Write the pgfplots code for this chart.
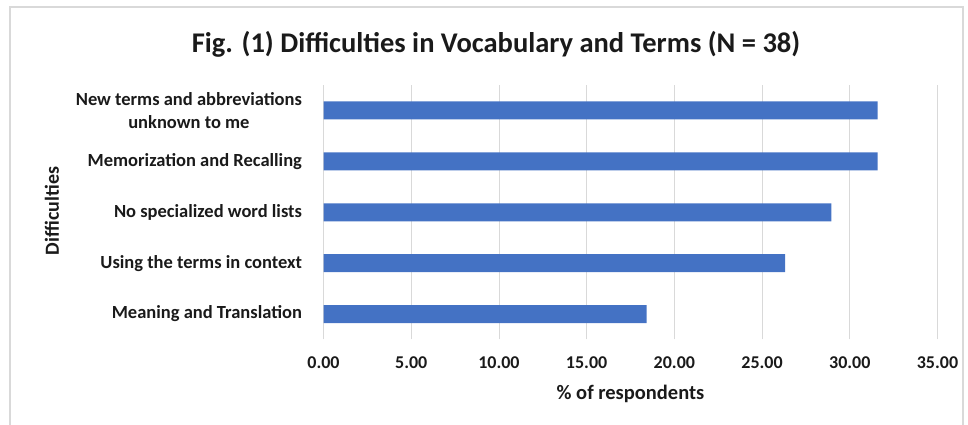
\documentclass[border=0pt]{standalone}
\usepackage{pgfplots}
\pgfplotsset{compat=1.18}
\usepackage{fontspec}
\setmainfont{Carlito}
\definecolor{barblue}{HTML}{4472C4}
\definecolor{gridgray}{HTML}{D9D9D9}
\definecolor{framegray}{HTML}{D9D9D9}
\definecolor{txt}{HTML}{1A1A1A}

\begin{document}
\begin{tikzpicture}[x=1pt,y=1pt]
\useasboundingbox (0,0) rectangle (968,425);
% chart frame
\draw[framegray, line width=1.2pt] (10,0) -- (10,418) -- (963,418) -- (963,0);
\begin{axis}[
  at={(323.5pt,85.5pt)}, anchor=south west,
  scale only axis, width=614pt, height=254.5pt,
  xbar, bar width=18pt,
  xmin=0, xmax=35, ymin=-0.5, ymax=4.5,
  xtick={0,5,...,35},
  ytick={0,1,2,3,4},
  yticklabels={Meaning and Translation,
               Using the terms in context,
               No specialized word lists,
               Memorization and Recalling,
               {New terms and abbreviations\\unknown to me}},
  axis line style={draw=none},
  major tick length=0pt,
  xmajorgrids, grid style={gridgray, line width=0.8pt},
  xticklabel style={font=\bfseries\fontsize{18}{22}\selectfont, text=txt, yshift=-14pt},
  yticklabel style={font=\bfseries\fontsize{18.5}{23}\selectfont, text=txt, align=center, xshift=-18pt},
  /pgf/number format/.cd, fixed, fixed zerofill, precision=2, assume math mode=true,
  /pgfplots/.cd,
  xlabel={\% of respondents},
  ylabel={Difficulties},
  xlabel style={font=\bfseries\fontsize{20.5}{24}\selectfont, text=txt,
                at={(axis description cs:0.5,-0.214)}, anchor=center},
  ylabel style={font=\bfseries\fontsize{20}{24}\selectfont, text=txt,
                at={(axis description cs:-0.4422,0.505)}, anchor=center, rotate=0},
  title={Fig. (1) Difficulties in Vocabulary and Terms (N = 38)},
  title style={font=\bfseries\fontsize{28.5}{32}\selectfont, text=txt,
               at={(axis description cs:0.281,1.137)}, anchor=center},
]
\addplot[fill=barblue, draw=none] coordinates {
  (18.42,0)
  (26.32,1)
  (28.95,2)
  (31.58,3)
  (31.58,4)
};
\end{axis}
\end{tikzpicture}
\end{document}
